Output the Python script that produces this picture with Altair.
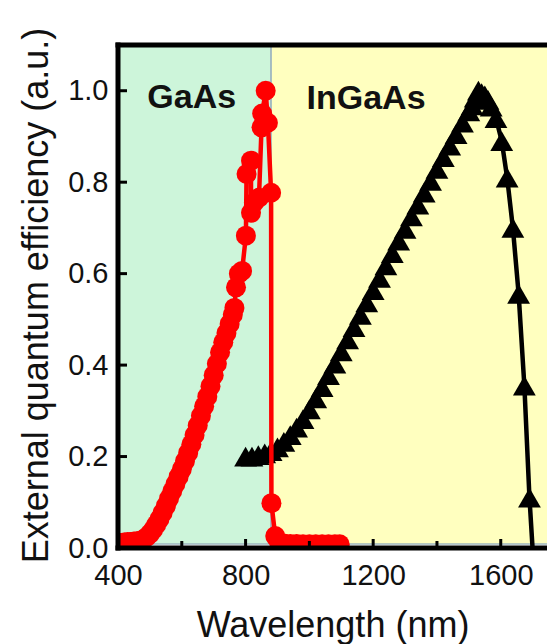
import altair as alt
import pandas as pd

# GaAs subcell external quantum efficiency (red circles), in measurement order
gaas_wavelength = [400, 410, 420, 430, 440, 450, 460, 470, 480, 490,
                   500, 510, 520, 530, 540, 550, 560, 570, 580, 590,
                   600, 610, 620, 630, 640, 650, 660, 670, 680, 690,
                   700, 710, 720, 730, 740, 750, 760, 765, 770, 779,
                   789, 801, 803, 817, 817, 826, 842, 850, 852, 863,
                   870, 880, 881, 893, 905, 920, 940, 960, 980, 1000,
                   1020, 1040, 1060, 1080, 1095]
gaas_eqe = [0.010, 0.011, 0.012, 0.013, 0.013, 0.014, 0.015, 0.016, 0.019, 0.024,
            0.031, 0.040, 0.051, 0.063, 0.077, 0.092, 0.108, 0.124, 0.140, 0.156,
            0.172, 0.190, 0.208, 0.227, 0.247, 0.268, 0.289, 0.310, 0.331, 0.354,
            0.378, 0.403, 0.428, 0.450, 0.470, 0.490, 0.510, 0.525, 0.570, 0.600,
            0.606, 0.683, 0.818, 0.847, 0.733, 0.755, 0.766, 0.920, 0.950, 1.000,
            0.930, 0.777, 0.098, 0.026, 0.012, 0.010, 0.009, 0.009, 0.008, 0.008,
            0.008, 0.008, 0.008, 0.008, 0.008]

# InGaAs subcell external quantum efficiency (black triangles)
ingaas_wavelength = [800, 820, 840, 860, 880, 900, 920, 940, 960, 980,
                     1000, 1020, 1040, 1060, 1080, 1100, 1120, 1140, 1160, 1180,
                     1200, 1220, 1240, 1260, 1280, 1300, 1320, 1340, 1360, 1380,
                     1400, 1420, 1440, 1460, 1480, 1500, 1510, 1520, 1530, 1540,
                     1550, 1560, 1570, 1585, 1603, 1620, 1638, 1656, 1674, 1690,
                     1705]
ingaas_eqe = [0.200, 0.200, 0.203, 0.207, 0.212, 0.220, 0.232, 0.247, 0.263, 0.282,
              0.303, 0.327, 0.352, 0.378, 0.403, 0.430, 0.456, 0.483, 0.510, 0.537,
              0.564, 0.591, 0.618, 0.645, 0.672, 0.698, 0.725, 0.751, 0.777, 0.803,
              0.829, 0.855, 0.880, 0.905, 0.930, 0.955, 0.968, 0.985, 1.000, 0.995,
              0.990, 0.980, 0.965, 0.940, 0.890, 0.810, 0.700, 0.556, 0.355, 0.110,
              -0.060]

# Absorption regions of the two subcells
region_names = ["GaAs", "InGaAs"]
region_start = [400, 880]
region_end = [880, 1800]
region_colors = ["#cdf5da", "#ffffbf"]

# Axis ticks
x_major_ticks = [400, 800, 1200, 1600]
x_minor_ticks = [600, 1000, 1400]
y_ticks = [0.0, 0.2, 0.4, 0.6, 0.8, 1.0]

W, H = 429, 503
FONT = "Liberation Sans"

x_scale = alt.Scale(domain=[400, 1745], nice=False, zero=False)
y_scale = alt.Scale(domain=[0, 1.1], nice=False, zero=False)

x_axis = alt.Axis(values=x_major_ticks, format="d", tickSize=0, domain=False, grid=False,
                  labelFontSize=29, labelPadding=13, labelFlush=False, labelColor="#111",
                  labelFont=FONT, titleFont=FONT, titleFontSize=36, titleFontWeight="normal",
                  titleColor="#111", titleBaseline="alphabetic", titleY=88)
y_axis = alt.Axis(values=y_ticks, format=".1f", tickSize=0, domain=False, grid=False,
                  labelFontSize=29, labelPadding=10, labelColor="#111", labelFont=FONT,
                  titleFont=FONT, titleFontSize=36, titleFontWeight="normal", titleColor="#111",
                  titleBaseline="alphabetic", titleAlign="center", titleX=-71, titleY=250)

X_TITLE = "Wavelength (nm)"
Y_TITLE = "External quantum efficiency (a.u.)"

gaas = pd.DataFrame({"wl": gaas_wavelength, "eqe": gaas_eqe,
                     "seq": list(range(len(gaas_wavelength)))})
ingaas = pd.DataFrame({"wl": ingaas_wavelength, "eqe": ingaas_eqe,
                       "seq": list(range(len(ingaas_wavelength)))})
regions = pd.DataFrame({"name": region_names, "start": region_start,
                        "end": region_end, "color": region_colors})

shade = alt.Chart(regions).mark_rect(clip=True, stroke="#9db5bf", strokeWidth=1.5).encode(
    x=alt.X("start:Q", scale=x_scale, axis=x_axis, title=X_TITLE),
    x2="end:Q",
    y=alt.value(0),
    y2=alt.value(H - 4),
    color=alt.Color("color:N", scale=None),
)

def series(df, color, shape, size):
    enc = dict(
        x=alt.X("wl:Q", scale=x_scale, axis=x_axis, title=X_TITLE),
        y=alt.Y("eqe:Q", scale=y_scale, axis=y_axis, title=Y_TITLE),
        order=alt.Order("seq:Q"),
    )
    line = alt.Chart(df).mark_line(color=color, strokeWidth=4.5, clip=True).encode(**enc)
    pts = alt.Chart(df).mark_point(shape=shape, filled=True, opacity=1, color=color,
                                   size=size, clip=True).encode(
        x=enc["x"], y=enc["y"])
    return line + pts

black = series(ingaas, "#000000", "triangle-up", 520)
red = series(gaas, "#ff0000", "circle", 400)

labels = pd.DataFrame({"name": region_names, "wl": [492, 991], "eqe": [0.962, 0.960]})
region_text = alt.Chart(labels).mark_text(
    font=FONT, fontSize=34, fontWeight="bold", align="left", baseline="alphabetic",
    color="#111").encode(
    x=alt.X("wl:Q", scale=x_scale), y=alt.Y("eqe:Q", scale=y_scale), text="name:N")

one = pd.DataFrame({"k": [0]})
frame_left = alt.Chart(one).mark_rule(color="black", strokeWidth=5, strokeCap="square").encode(
    x=alt.value(0), y=alt.value(0), y2=alt.value(H))
frame_top = alt.Chart(one).mark_rule(color="black", strokeWidth=5, strokeCap="square").encode(
    x=alt.value(0), x2=alt.value(W + 5), y=alt.value(0))
frame_bottom = alt.Chart(one).mark_rule(color="black", strokeWidth=5, strokeCap="square").encode(
    x=alt.value(0), x2=alt.value(W + 5), y=alt.value(H))

xt_major = alt.Chart(pd.DataFrame({"v": x_major_ticks[1:]})).mark_rule(
    color="black", strokeWidth=3).encode(
    x=alt.X("v:Q", scale=x_scale), y=alt.value(H), y2=alt.value(H - 9))
xt_minor = alt.Chart(pd.DataFrame({"v": x_minor_ticks})).mark_rule(
    color="black", strokeWidth=3).encode(
    x=alt.X("v:Q", scale=x_scale), y=alt.value(H), y2=alt.value(H - 7))
yt = alt.Chart(pd.DataFrame({"v": y_ticks[1:]})).mark_rule(
    color="black", strokeWidth=3).encode(
    y=alt.Y("v:Q", scale=y_scale), x=alt.value(0), x2=alt.value(9))

chart = alt.layer(
    shade, black, red, region_text, xt_major, xt_minor, yt,
    frame_left, frame_top, frame_bottom,
).properties(
    width=W, height=H,
    autosize=alt.AutoSizeParams(type="none"),
    padding={"left": 118, "top": 45, "right": 0, "bottom": 96},
    background="white",
).configure_view(stroke=None)

chart.save("out.html", embed_options={"renderer": "svg", "actions": False})
